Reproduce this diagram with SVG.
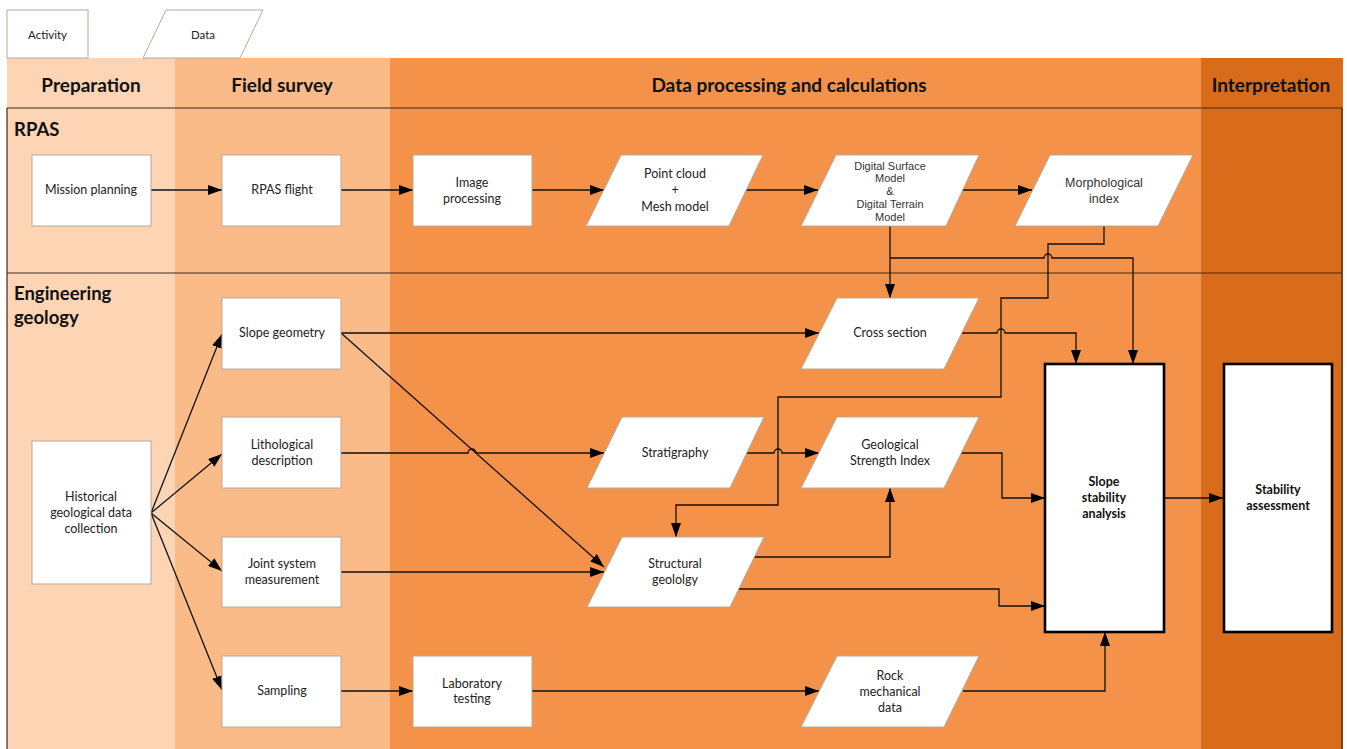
<svg xmlns="http://www.w3.org/2000/svg" width="1347" height="749" viewBox="0 0 1347 749">
<defs>
<style>
.bg{fill:#ffffff}
.lane{stroke:#3b2a1e;stroke-width:1.2;fill:none}
.box{fill:#ffffff;stroke:#b9a89a;stroke-width:1}
.thick{fill:#ffffff;stroke:#000000;stroke-width:2.6}
.hdr{font-family:Lato,"Open Sans",sans-serif;font-weight:bold;font-size:19px;fill:#111;text-anchor:middle}
.lbl{font-family:Lato,"Open Sans",sans-serif;font-weight:bold;font-size:18.5px;fill:#111}
.t{font-family:Lato,"Open Sans",sans-serif;font-size:12.5px;fill:#222;text-anchor:middle}
.tl{font-family:Lato,"Open Sans",sans-serif;font-size:11.5px;fill:#222;text-anchor:middle}
.ta{font-family:"Liberation Sans",Arial,sans-serif;font-size:11px;fill:#333;text-anchor:middle}
.tm{font-family:"Liberation Sans",Arial,sans-serif;font-size:12.5px;fill:#333;text-anchor:middle}
.tb{font-family:Lato,"Open Sans",sans-serif;font-weight:bold;font-size:12.5px;fill:#111;text-anchor:middle}
.c{fill:none;stroke:#111;stroke-width:1.3}
.ca{fill:none;stroke:#111;stroke-width:1.3;marker-end:url(#ah)}
</style>
<marker id="ah" viewBox="0 0 14 10" refX="14" refY="5" markerWidth="14" markerHeight="10" orient="auto" markerUnits="userSpaceOnUse"><path d="M0,0 L14,5 L0,10 z" fill="#000"/></marker>
</defs>
<rect class="bg" x="0" y="0" width="1347" height="749"/>
<g id="columns">
<rect x="7" y="58" width="168" height="691" fill="#FDD5B5"/>
<rect x="175" y="58" width="215" height="691" fill="#FBBB88"/>
<rect x="390" y="58" width="811" height="691" fill="#F39248"/>
<rect x="1201" y="58" width="142" height="691" fill="#D96C1A"/>
<text class="hdr" x="91" y="92">Preparation</text>
<text class="hdr" x="282" y="92">Field survey</text>
<text class="hdr" x="789" y="92">Data processing and calculations</text>
<text class="hdr" x="1271" y="92">Interpretation</text>
</g>
<g id="lanes">
<line class="lane" x1="7" y1="108" x2="1342" y2="108"/>
<line class="lane" x1="7" y1="273" x2="1342" y2="273"/>
<line class="lane" x1="7" y1="108" x2="7" y2="749"/>
<line class="lane" x1="1342" y1="108" x2="1342" y2="749"/>
<text class="lbl" x="14" y="136">RPAS</text>
<text class="lbl" x="14" y="300">Engineering</text>
<text class="lbl" x="14" y="324">geology</text>
</g>
<g id="legend">
<g id="legend-activity"><rect class="box" x="7" y="10" width="81" height="48"/><text class="tl" x="47.5" y="39">Activity</text></g>
<g id="legend-data"><polygon class="box" points="166,10 263,10 240,58 143,58"/><text class="tl" x="203" y="39">Data</text></g>
</g>
<g id="connectors">
<line class="ca" x1="151" y1="190" x2="222" y2="190"/>
<line class="ca" x1="341" y1="190" x2="413" y2="190"/>
<line class="ca" x1="532" y1="190" x2="604" y2="190"/>
<line class="ca" x1="746" y1="190" x2="818" y2="190"/>
<line class="ca" x1="962" y1="190" x2="1032" y2="190"/>
<path class="ca" d="M890,226 V298"/>
<path class="ca" d="M890,258 H1044 a4,4 0 0 1 8,0 H1133 V364"/>
<path class="ca" d="M1104,226 V244 H1048 V298 H1001 V397 H778 V505 H676 V537"/>
<path class="ca" d="M962,333 H997 a4,4 0 0 1 8,0 H1076 V364"/>
<path class="ca" d="M341,333 H819"/>
<path class="ca" d="M341,333 L604,567"/>
<path class="ca" d="M341,453 H468 a4,4 0 0 1 8,0 H604"/>
<path class="ca" d="M747,453 H774 a4,4 0 0 1 8,0 H819"/>
<path class="ca" d="M961,453 H1002 V498 H1045"/>
<path class="ca" d="M341,572 H604"/>
<path class="ca" d="M754,557 H890 V488"/>
<path class="ca" d="M739,589 H999 V606 H1045"/>
<line class="ca" x1="341" y1="691" x2="413" y2="691"/>
<line class="ca" x1="532" y1="691" x2="819" y2="691"/>
<path class="ca" d="M963,691 H1105 V632"/>
<line class="ca" x1="1165" y1="498" x2="1223" y2="498"/>
<line class="ca" x1="151" y1="513" x2="222" y2="334"/>
<line class="ca" x1="151" y1="513" x2="222" y2="454"/>
<line class="ca" x1="151" y1="513" x2="222" y2="571"/>
<line class="ca" x1="151" y1="513" x2="222" y2="690"/>
</g>
<g id="mission-planning"><rect class="box" x="32" y="155" width="119" height="71"/><text class="t" x="91" y="194">Mission planning</text></g>
<g id="rpas-flight"><rect class="box" x="222" y="155" width="119" height="71"/><text class="t" x="282" y="194">RPAS flight</text></g>
<g id="image-processing"><rect class="box" x="413" y="155" width="119" height="71"/><text class="t" x="472" y="187">Image</text><text class="t" x="472" y="203">processing</text></g>
<g id="point-cloud"><polygon class="box" points="621,155 763,155 729,226 586,226"/><text class="t" x="675" y="178">Point cloud</text><text class="t" x="675" y="194">+</text><text class="t" x="675" y="211">Mesh model</text></g>
<g id="dsm-dtm"><polygon class="box" points="836,155 979,155 946,226 801,226"/><text class="ta" x="890" y="169.5">Digital Surface</text><text class="ta" x="890" y="182">Model</text><text class="ta" x="890" y="195">&amp;</text><text class="ta" x="890" y="207.5">Digital Terrain</text><text class="ta" x="890" y="220.5">Model</text></g>
<g id="morphological-index"><polygon class="box" points="1050,155 1193,155 1158,226 1015,226"/><text class="tm" x="1104" y="186.5">Morphological</text><text class="tm" x="1104" y="203">index</text></g>
<g id="historical"><rect class="box" x="32" y="441" width="119" height="143"/><text class="t" x="91" y="501">Historical</text><text class="t" x="91" y="517">geological data</text><text class="t" x="91" y="533">collection</text></g>
<g id="slope-geometry"><rect class="box" x="222" y="298" width="119" height="71"/><text class="t" x="282" y="337">Slope geometry</text></g>
<g id="lithological"><rect class="box" x="222" y="417" width="119" height="71"/><text class="t" x="282" y="449">Lithological</text><text class="t" x="282" y="465">description</text></g>
<g id="joint-system"><rect class="box" x="222" y="537" width="119" height="70"/><text class="t" x="282" y="568">Joint system</text><text class="t" x="282" y="584">measurement</text></g>
<g id="sampling"><rect class="box" x="222" y="656" width="119" height="71"/><text class="t" x="282" y="695">Sampling</text></g>
<g id="laboratory"><rect class="box" x="413" y="656" width="119" height="71"/><text class="t" x="472" y="688">Laboratory</text><text class="t" x="472" y="703">testing</text></g>
<g id="cross-section"><polygon class="box" points="837,298 979,298 944,369 801,369"/><text class="t" x="890" y="337">Cross section</text></g>
<g id="stratigraphy"><polygon class="box" points="622,417 764,417 730,488 587,488"/><text class="t" x="675" y="457">Stratigraphy</text></g>
<g id="gsi"><polygon class="box" points="837,417 979,417 944,488 801,488"/><text class="t" x="890" y="449">Geological</text><text class="t" x="890" y="465">Strength Index</text></g>
<g id="structural"><polygon class="box" points="622,537 764,537 730,607 587,607"/><text class="t" x="675" y="568">Structural</text><text class="t" x="675" y="584">geololgy</text></g>
<g id="rock-mechanical"><polygon class="box" points="837,656 979,656 944,727 801,727"/><text class="t" x="890" y="680">Rock</text><text class="t" x="890" y="696">mechanical</text><text class="t" x="890" y="712">data</text></g>
<g id="slope-stability"><rect class="thick" x="1045" y="364" width="119" height="268"/><text class="tb" x="1104" y="486">Slope</text><text class="tb" x="1104" y="502">stability</text><text class="tb" x="1104" y="518">analysis</text></g>
<g id="stability-assessment"><rect class="thick" x="1224" y="364" width="108" height="268"/><text class="tb" x="1278" y="494">Stability</text><text class="tb" x="1278" y="510">assessment</text></g>
</svg>
